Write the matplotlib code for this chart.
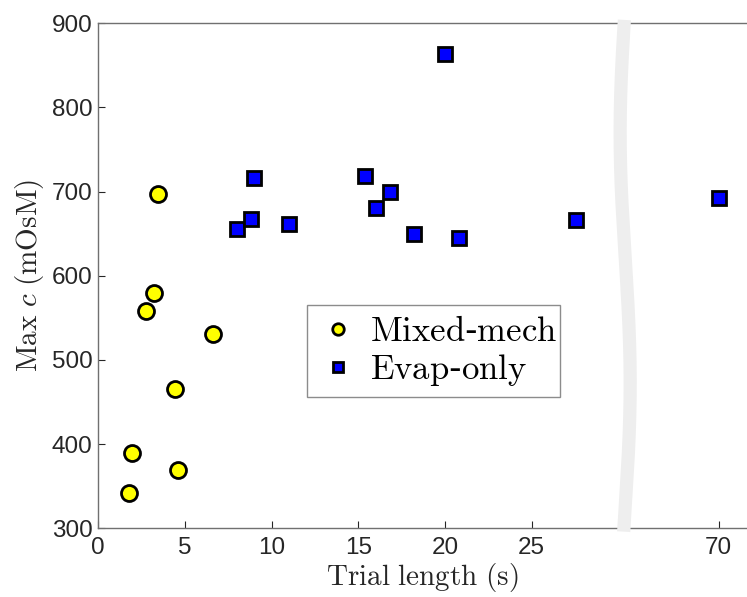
import numpy as np
import matplotlib
matplotlib.use('Agg')
import matplotlib.pyplot as plt

# peak osmolarity per trial, split by thinning mechanism
mixed_len = [3.43, 3.20, 2.77, 6.60, 4.43, 1.96, 4.58, 1.75]
mixed_max = [697, 580, 558, 531, 465, 390, 369, 342]
evap_len = [7.99, 8.79, 8.98, 11.0, 15.41, 16.0, 16.83, 18.22, 20.02, 20.83, 27.56, 70.0]
evap_max = [655, 668, 716, 662, 718, 680, 699, 650, 864, 645, 666, 692]

x_ticks = [0, 5, 10, 15, 20, 25, 70]
y_ticks = [300, 400, 500, 600, 700, 800, 900]

# the long trial sits past an axis break, squeezed next to it
CUT = 30.4
FAR_POS = 35.8


def to_axis(t):
    t = np.asarray(t, dtype=float)
    return np.where(t > CUT, FAR_POS + (t - 70.0) * 0.05, t)


plt.rcParams['mathtext.fontset'] = 'cm'
tick_font = 'Liberation Sans'
axis_col = '#262626'

fig = plt.figure(figsize=(7.47, 5.97), dpi=100)
ax = fig.add_axes([0.1316, 0.1151, 0.8684, 0.8459])

ax.plot(to_axis(mixed_len), mixed_max, 'o', ms=11.5, mfc='#ffff00', mec='black',
        mew=2.0, ls='none', label=r'$\mathrm{Mixed}$-$\mathrm{mech}$', zorder=4)
ax.plot(to_axis(evap_len), evap_max, 's', ms=9.5, mfc='#0000ff', mec='black',
        mew=2.0, ls='none', label=r'$\mathrm{Evap}$-$\mathrm{only}$', zorder=4)

ax.set_xlim(0, 37.43)
ax.set_ylim(300, 900)
ax.set_xticks(to_axis(x_ticks))
ax.set_xticklabels([str(v) for v in x_ticks])
ax.set_yticks(y_ticks)

ax.tick_params(direction='in', length=5, width=0.8, colors=axis_col,
               labelsize=17.5)
ax.tick_params(axis='x', pad=6)
ax.tick_params(axis='y', pad=4)
for lab in ax.get_xticklabels() + ax.get_yticklabels():
    lab.set_fontfamily(tick_font)

for side in ('left', 'bottom', 'top'):
    ax.spines[side].set_color('#707070')
    ax.spines[side].set_linewidth(1.0)
ax.spines['right'].set_visible(False)

ax.set_xlabel(r'$\mathrm{Trial\ length\ (s)}$', fontsize=21, color=axis_col, labelpad=2)
ax.set_ylabel(r'$\mathrm{Max}\ c\ \mathrm{(mOsM)}$', fontsize=21, color=axis_col, labelpad=4)

# wavy break marker across the axis
yy = np.linspace(296, 904, 200)
xx = CUT - 0.29 * np.cos(2 * np.pi * (yy - 770) / 595)
ax.plot(xx, yy, color='#eeeeee', lw=9.5, solid_capstyle='butt',
        clip_on=False, zorder=3)

leg = ax.legend(loc='upper left', bbox_to_anchor=(0.322, 0.442, 0.39, 0.0),
                mode='expand', fontsize=25, frameon=True, fancybox=False,
                borderpad=0.25, borderaxespad=0.0, handletextpad=0.25,
                handlelength=1.3, labelspacing=0.12, markerscale=0.72)
leg.get_frame().set_edgecolor('#707070')
leg.get_frame().set_linewidth(1.0)

fig.savefig('out.png', dpi=100)
